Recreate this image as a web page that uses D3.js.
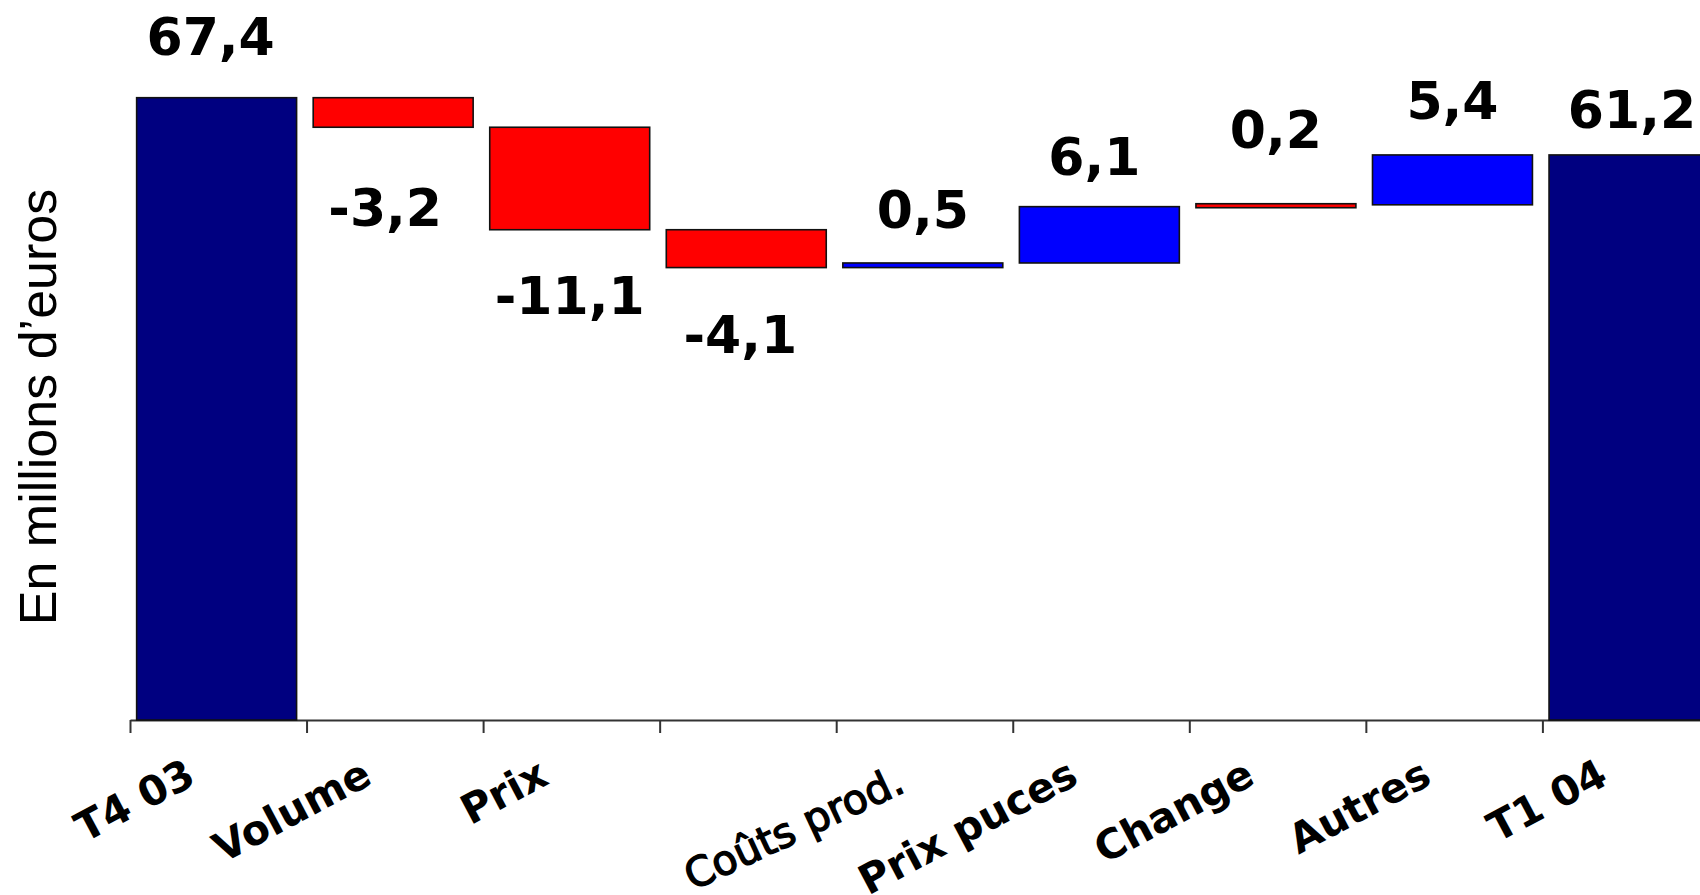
<!DOCTYPE html>
<html>
<head>
<meta charset="utf-8">
<script src="https://cdn.jsdelivr.net/npm/d3@7/dist/d3.min.js"></script>
<style>
  html, body { margin: 0; padding: 0; background: #fff; }
  svg { display: block; }
</style>
</head>
<body>
<script>
// bridge chart: T4 03 -> T1 04, en millions d'euros
var categories = ['T4 03', 'Volume', 'Prix', '', 'Coûts prod.', 'Prix puces', 'Change', 'Autres', 'T1 04'];
var values = [67.4, -3.2, -11.1, -4.1, 0.5, 6.1, 0.2, 5.4, 61.2];
var isTotal = [true, false, false, false, false, false, false, false, true];

// styles (kept apart from the data)
var fills = ['#000080', '#ff0000', '#ff0000', '#ff0000', '#0000ff', '#0000ff', '#ff0000', '#0000ff', '#000080'];
// distance in px from the bar edge to the value label baseline, and small x nudges
var labelGap = [43, 99, 84, 85, 35, 32, 57, 36, 27];
var labelNudgeX = [-6, -8, 0, -6, 0, -5, 0, 0, 3];

var width = 1700, height = 895;

var svg = d3.select('body')
  .append('svg')
  .attr('width', width)
  .attr('height', height);

// running totals -> start / end of each floating bar
var run = 0;
var bars = values.map(function(v, i) {
  var b;
  if (isTotal[i]) {
    b = { y0: 0, y1: v };
    run = v;
  } else {
    b = { y0: run, y1: run + v };
    run = run + v;
  }
  b.i = i;
  b.v = v;
  return b;
});

var step = 176.55, x0 = 130;

var x = d3.scaleBand()
  .domain(d3.range(categories.length))
  .range([x0, x0 + step * categories.length])
  .paddingInner(0.094)
  .paddingOuter(0.047)
  .align(0.4);

// category edges for the tick marks
var xEdge = d3.scaleLinear()
  .domain([0, categories.length])
  .range([x0, x0 + step * categories.length]);

var y = d3.scaleLinear()
  .domain([0, d3.max(values)])
  .range([720, 97.7]);

// x axis with ticks between categories
var axis = svg.append('g')
  .attr('transform', 'translate(0,' + y(0) + ')')
  .call(d3.axisBottom(xEdge)
    .tickValues(d3.range(categories.length + 1))
    .tickSize(13)
    .tickSizeOuter(0)
    .tickFormat(''));
axis.selectAll('path, line')
  .attr('stroke', '#333')
  .attr('stroke-width', 2);

// bars (very small steps keep a minimum drawn height so the fill shows)
var minH = 4;
svg.selectAll('rect.bar')
  .data(bars)
  .enter()
  .append('rect')
  .attr('class', 'bar')
  .attr('x', function(d) { return x(d.i); })
  .attr('width', x.bandwidth())
  .attr('y', function(d) {
    var h = Math.abs(y(d.y0) - y(d.y1));
    var top = y(Math.max(d.y0, d.y1));
    return h < minH ? top - (minH - h) / 2 : top;
  })
  .attr('height', function(d) { return Math.max(minH, Math.abs(y(d.y0) - y(d.y1))); })
  .attr('fill', function(d) { return fills[d.i]; })
  .attr('stroke', '#111')
  .attr('stroke-width', 1.6);

// value labels: above for totals and rises, below for drops
function fmt(v) { return v.toFixed(1).replace('.', ','); }

svg.selectAll('text.val')
  .data(bars)
  .enter()
  .append('text')
  .attr('class', 'val')
  .attr('x', function(d) { return x(d.i) + x.bandwidth() / 2 + labelNudgeX[d.i]; })
  .attr('y', function(d) {
    if (d.v < 0) return y(Math.min(d.y0, d.y1)) + labelGap[d.i];
    return y(Math.max(d.y0, d.y1)) - labelGap[d.i];
  })
  .attr('text-anchor', 'middle')
  .style('font-family', 'Verdana, "DejaVu Sans", sans-serif')
  .style('font-weight', 'bold')
  .style('font-size', '52px')
  .attr('fill', '#000')
  .text(function(d) { return fmt(d.v); });

// category labels, rotated; "Coûts prod." is a pasted label in a lighter, different style
svg.selectAll('text.cat')
  .data(categories.map(function(c, i) { return { c: c, i: i }; }).filter(function(d) { return d.c !== ''; }))
  .enter()
  .append('text')
  .attr('class', 'cat')
  .attr('transform', function(d) {
    var cx = x(d.i) + x.bandwidth() / 2;
    if (d.c === 'Coûts prod.') return 'translate(' + (cx - 16) + ',' + 791 + ') rotate(-25)';
    return 'translate(' + (cx - 19) + ',' + 783 + ') rotate(-28)';
  })
  .attr('text-anchor', 'end')
  .style('font-family', 'Verdana, "DejaVu Sans", sans-serif')
  .style('font-weight', function(d) { return d.c === 'Coûts prod.' ? 'normal' : 'bold'; })
  .style('font-size', function(d) { return d.c === 'Coûts prod.' ? '41px' : '41px'; })
  .attr('stroke', function(d) { return d.c === 'Coûts prod.' ? '#000' : 'none'; })
  .attr('stroke-width', 1.4)
  .attr('fill', '#000')
  .text(function(d) { return d.c; });

// y axis title
svg.append('text')
  .attr('transform', 'translate(56,407) rotate(-90)')
  .attr('text-anchor', 'middle')
  .style('font-family', 'Arial, "Liberation Sans", sans-serif')
  .style('font-size', '52px')
  .attr('fill', '#000')
  .text('En millions d’euros');
</script>
</body>
</html>
